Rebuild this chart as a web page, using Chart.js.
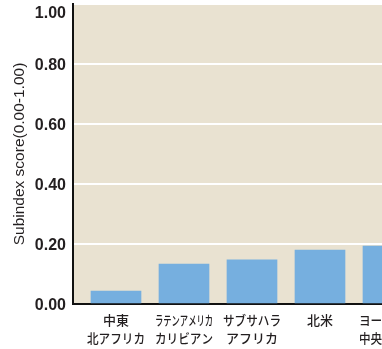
<!DOCTYPE html>
<html lang="ja">
<head>
<meta charset="utf-8">
<script src="https://cdn.jsdelivr.net/npm/chart.js@4/dist/chart.umd.min.js"></script>
<style>
  html, body { margin: 0; padding: 0; background: #ffffff; overflow: hidden; }
  #wrap { width: 460px; height: 349px; }
</style>
</head>
<body>
<div id="wrap"><canvas id="c" width="460" height="349"></canvas></div>
<script>
// Regions (two-line labels) and their subindex scores
const regions = [
  ['中東', '北アフリカ'],
  ['ラテンアメリカ', 'カリビアン'],
  ['サブサハラ', 'アフリカ'],
  ['北米'],
  ['ヨーロッパ', '中央アジア']
];
const scores = [0.043, 0.133, 0.147, 0.180, 0.193];
const yTicks = [0, 0.2, 0.4, 0.6, 0.8, 1.0];

const INK = '#231F20';
const PLOT_BG = '#E9E2D1';
const BAR = '#76AFDF';

// Paint the plot area background
const plotBackground = {
  id: 'plotBackground',
  beforeDraw(chart) {
    const { ctx, chartArea: a } = chart;
    ctx.save();
    ctx.fillStyle = PLOT_BG;
    ctx.fillRect(a.left, a.top, a.right - a.left, a.bottom - a.top);
    ctx.restore();
  }
};

// Region names under each bar, squeezed to fit the bar spacing
const regionLabels = {
  id: 'regionLabels',
  afterDraw(chart) {
    const { ctx, chartArea: a } = chart;
    const x = chart.scales.x;
    ctx.save();
    ctx.fillStyle = INK;
    ctx.font = '500 13px "Noto Sans CJK JP", sans-serif';
    ctx.textAlign = 'center';
    ctx.textBaseline = 'middle';
    regions.forEach((lines, i) => {
      const px = x.getPixelForValue(i);
      lines.forEach((t, j) => {
        ctx.fillText(t, px, a.bottom + 16 + j * 18, 58);
      });
    });
    ctx.restore();
  }
};

new Chart(document.getElementById('c'), {
  type: 'bar',
  data: {
    datasets: [{
      data: scores.map((v, i) => ({ x: i, y: v })),
      backgroundColor: BAR,
      borderWidth: 0,
      barThickness: 50
    }]
  },
  options: {
    responsive: false,
    animation: false,
    layout: { padding: { top: 4, bottom: 45, left: 0, right: 0 } },
    plugins: { legend: { display: false }, tooltip: { enabled: false } },
    scales: {
      x: {
        type: 'linear',
        offset: false,
        min: -43 / 68,
        max: -43 / 68 + 387 / 68,
        grid: { display: false, drawTicks: false },
        border: { display: true, color: '#111', width: 2 },
        ticks: { display: false }
      },
      y: {
        min: 0,
        max: 1,
        afterBuildTicks(scale) {
          scale.ticks = yTicks.map(v => ({ value: v }));
        },
        afterFit(scale) {
          scale.width = 73;
          scale.paddingTop = 0;
          scale.paddingBottom = 0;
        },
        grid: {
          drawTicks: false,
          lineWidth: 2,
          color: (c) => (c.tick && c.tick.value === 0 ? 'rgba(0,0,0,0)' : '#ffffff')
        },
        border: { display: true, color: '#111', width: 2 },
        ticks: {
          padding: 7,
          labelOffset: 2,
          color: INK,
          font: (c) => ({
            family: '"Liberation Sans", Arial, sans-serif',
            size: 16,
            weight: 'bold',
            lineHeight: c.tick && c.tick.value === 1 ? '15px' : 1.2
          }),
          callback: (v) => (v === 1 ? ['', v.toFixed(2)] : v.toFixed(2))
        },
        title: {
          display: true,
          text: 'Subindex score(0.00-1.00)',
          color: INK,
          padding: { top: 10, bottom: 4 },
          font: { family: '"Liberation Sans", Arial, sans-serif', size: 15.5, weight: 'normal' }
        }
      }
    }
  },
  plugins: [plotBackground, regionLabels]
});
</script>
</body>
</html>
